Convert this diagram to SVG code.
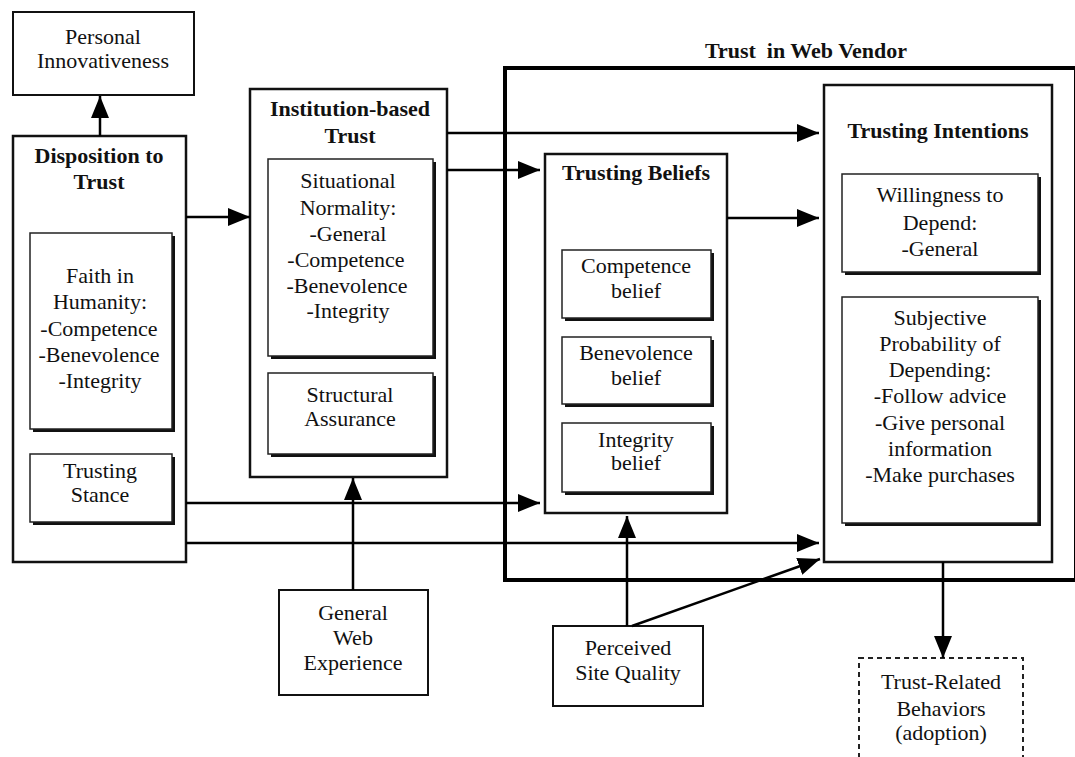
<svg xmlns="http://www.w3.org/2000/svg" width="1075" height="757" viewBox="0 0 1075 757">
<defs>
<style>
text{font-family:"Liberation Serif","Times New Roman",serif;font-size:22px;fill:#111;text-anchor:middle}
.b{font-weight:bold}
.box{fill:#fff;stroke:#111;stroke-width:2.5}
.thin{fill:#fff;stroke:#111;stroke-width:2}
.in{fill:#fff;stroke:#222;stroke-width:1.5}
.sh{fill:#111}
.outer{fill:none;stroke:#000;stroke-width:4}
.dash{fill:#fff;stroke:#222;stroke-width:2;stroke-dasharray:5 4}
.c line{stroke:#000;stroke-width:2.5;fill:none}
.a{marker-end:url(#ah)}
</style>
<marker id="ah" markerUnits="userSpaceOnUse" markerWidth="22" markerHeight="18" refX="22" refY="9" orient="auto">
<path d="M0,0 L22,9 L0,18 Z" fill="#000"/>
</marker>
</defs>
<rect width="1075" height="757" fill="#fff"/>

<g id="trust-web-vendor">
<rect class="outer" x="505" y="68" width="571" height="512"/>
<text class="b" x="806" y="58" xml:space="preserve">Trust  in Web Vendor</text>
</g>

<g id="personal-innovativeness">
<rect class="thin" x="13" y="12" width="181" height="83"/>
<text x="103" y="44">Personal</text>
<text x="103" y="68">Innovativeness</text>
</g>

<g id="disposition-to-trust">
<rect class="box" x="13" y="136" width="173" height="426"/>
<text class="b" x="99" y="163">Disposition to</text>
<text class="b" x="99" y="189">Trust</text>
<g id="faith-in-humanity">
<rect class="sh" x="33" y="236" width="142" height="196"/>
<rect class="in" x="30" y="233" width="142" height="196"/>
<text x="100" y="283">Faith in</text>
<text x="100" y="309">Humanity:</text>
<text x="99" y="336">-Competence</text>
<text x="99" y="362">-Benevolence</text>
<text x="100" y="388">-Integrity</text>
</g>
<g id="trusting-stance">
<rect class="sh" x="33" y="457" width="142" height="68"/>
<rect class="in" x="30" y="454" width="142" height="68"/>
<text x="100" y="478">Trusting</text>
<text x="100" y="502">Stance</text>
</g>
</g>

<g id="institution-based-trust">
<rect class="box" x="250" y="89" width="197" height="388"/>
<text class="b" x="350" y="116">Institution-based</text>
<text class="b" x="350" y="143">Trust</text>
<g id="situational-normality">
<rect class="sh" x="271" y="162" width="165" height="197"/>
<rect class="in" x="268" y="159" width="165" height="197"/>
<text x="348" y="188">Situational</text>
<text x="348" y="215">Normality:</text>
<text x="348" y="241">-General</text>
<text x="346" y="267">-Competence</text>
<text x="347" y="293">-Benevolence</text>
<text x="348" y="318">-Integrity</text>
</g>
<g id="structural-assurance">
<rect class="sh" x="271" y="376" width="165" height="81"/>
<rect class="in" x="268" y="373" width="165" height="81"/>
<text x="350" y="402">Structural</text>
<text x="350" y="426">Assurance</text>
</g>
</g>

<g id="trusting-beliefs">
<rect class="box" x="545" y="154" width="182" height="359"/>
<text class="b" x="636" y="180">Trusting Beliefs</text>
<g id="competence-belief">
<rect class="sh" x="565" y="253" width="149" height="68"/>
<rect class="in" x="562" y="250" width="149" height="68"/>
<text x="636" y="273">Competence</text>
<text x="636" y="298">belief</text>
</g>
<g id="benevolence-belief">
<rect class="sh" x="565" y="340" width="149" height="67"/>
<rect class="in" x="562" y="337" width="149" height="67"/>
<text x="636" y="360">Benevolence</text>
<text x="636" y="385">belief</text>
</g>
<g id="integrity-belief">
<rect class="sh" x="565" y="426" width="149" height="69"/>
<rect class="in" x="562" y="423" width="149" height="69"/>
<text x="636" y="447">Integrity</text>
<text x="636" y="470">belief</text>
</g>
</g>

<g id="trusting-intentions">
<rect class="box" x="824" y="85" width="228" height="477"/>
<text class="b" x="938" y="138">Trusting Intentions</text>
<g id="willingness-to-depend">
<rect class="sh" x="845" y="177" width="196" height="98"/>
<rect class="in" x="842" y="174" width="196" height="98"/>
<text x="940" y="202">Willingness to</text>
<text x="940" y="230">Depend:</text>
<text x="940" y="256">-General</text>
</g>
<g id="subjective-probability">
<rect class="sh" x="845" y="300" width="196" height="226"/>
<rect class="in" x="842" y="297" width="196" height="226"/>
<text x="940" y="325">Subjective</text>
<text x="940" y="351">Probability of</text>
<text x="940" y="377">Depending:</text>
<text x="940" y="403">-Follow advice</text>
<text x="940" y="430">-Give personal</text>
<text x="940" y="456">information</text>
<text x="940" y="482">-Make purchases</text>
</g>
</g>

<g id="general-web-experience">
<rect class="thin" x="279" y="590" width="149" height="105"/>
<text x="353" y="620">General</text>
<text x="353" y="645">Web</text>
<text x="353" y="670">Experience</text>
</g>

<g id="perceived-site-quality">
<rect class="thin" x="553" y="626" width="150" height="80"/>
<text x="628" y="655">Perceived</text>
<text x="628" y="680">Site Quality</text>
</g>

<g id="trust-related-behaviors">
<rect class="dash" x="859" y="658" width="164" height="120"/>
<text x="941" y="689">Trust-Related</text>
<text x="941" y="716">Behaviors</text>
<text x="941" y="740">(adoption)</text>
</g>

<g id="connectors" class="c">
<line class="a" x1="100" y1="136" x2="100" y2="96"/>
<line class="a" x1="186" y1="217" x2="250" y2="217"/>
<line class="a" x1="447" y1="133" x2="819" y2="133"/>
<line class="a" x1="447" y1="170" x2="540" y2="170"/>
<line class="a" x1="727" y1="218" x2="819" y2="218"/>
<line class="a" x1="186" y1="503" x2="540" y2="503"/>
<line class="a" x1="186" y1="543" x2="819" y2="543"/>
<line class="a" x1="353" y1="590" x2="353" y2="478"/>
<line class="a" x1="627" y1="626" x2="627" y2="516"/>
<line class="a" x1="632" y1="626" x2="820" y2="559"/>
<line class="a" x1="943" y1="562" x2="943" y2="658"/>
</g>
</svg>
